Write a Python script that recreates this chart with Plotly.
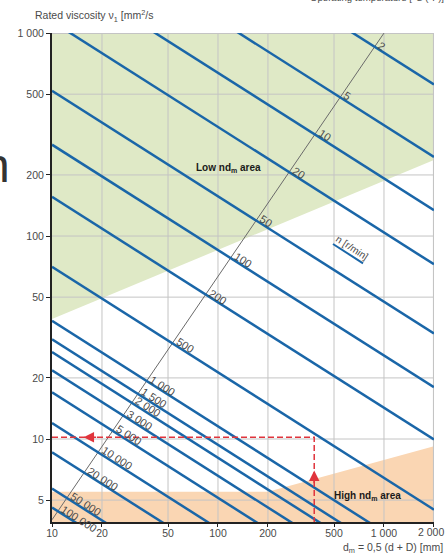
import math
import plotly.graph_objects as go

# Rotational speed n [r/min] of each line and the rated viscosity it gives
# at the two ends of the d_m scale (10 mm and 2 000 mm)
speeds = [2, 5, 10, 20, 50, 100, 200, 500, 1000, 1500, 2000, 3000, 5000,
          10000, 20000, 50000, 100000]
speed_labels = ["2", "5", "10", "20", "50", "100", "200", "500", "1 000",
                "1 500", "2 000", "3 000", "5 000", "10 000", "20 000",
                "50 000", "100 000"]
visc_at_dm10 = [8770, 3854, 2108, 1142, 520, 282, 156, 70.5, 38.2, 31.0,
                26.8, 21.8, 17.0, 12.0, 8.6, 5.7, 4.6]
visc_at_dm2000 = [558, 245, 134, 72.6, 33.1, 18.0, 9.94, 4.49, 2.43, 1.97,
                  1.70, 1.39, 1.08, 0.76, 0.55, 0.36, 0.29]
dm_ends = [10, 2000]

# Diagonal on which the speed labels sit
diag_dm = [10, 1000]
diag_visc = [4, 1000]

# Shaded areas
low_area_dm = [10, 2000, 2000, 10]
low_area_visc = [39, 237, 1000, 1000]
high_area_dm = [10, 200, 2000, 2000, 10]
high_area_visc = [5.5, 5.5, 9.2, 3.9, 3.9]

# Worked example (d_m = 380 mm -> ~10 mm2/s)
example_dm = 380
example_visc = 10.2
arrow_left_dm = 15.5
arrow_up_visc = 7.0

# Legend key for the speed lines
key_dm = [493, 748]
key_visc = [91.4, 73.4]

# Axes
x_ticks = [10, 20, 50, 100, 200, 500, 1000, 2000]
x_ticktext = ["10", "20", "50", "100", "200", "500", "1 000", "2 000"]
y_ticks = [5, 10, 20, 50, 100, 200, 500, 1000]
y_ticktext = ["5", "10", "20", "50", "100", "200", "500", "1 000"]
x_min, x_max = 10, 2000
y_min, y_max = 3.9, 1000

W, H = 446, 555
M_L, M_R, M_T, M_B = 52, 12, 33, 33
plot_w = W - M_L - M_R
plot_h = H - M_T - M_B
px_dec_x = plot_w / (math.log10(x_max) - math.log10(x_min))
px_dec_y = plot_h / (math.log10(y_max) - math.log10(y_min))

BLUE = "#1a66a8"
GRID = "#c4c4c4"
RED = "#e0343c"
TXT = "#4a4a4a"
FONT = "Liberation Sans, Arial, sans-serif"

fig = go.Figure()

# shaded areas
fig.add_trace(go.Scatter(x=low_area_dm, y=low_area_visc, fill="toself",
                         fillcolor="#dfe9c6", line=dict(width=0),
                         mode="lines", hoverinfo="skip"))
fig.add_trace(go.Scatter(x=high_area_dm, y=high_area_visc, fill="toself",
                         fillcolor="#fad6b3", line=dict(width=0),
                         mode="lines", hoverinfo="skip"))

# grid drawn over the shading
gx, gy = [], []
for v in x_ticks[1:]:
    gx += [v, v, None]
    gy += [y_min, y_max, None]
for v in y_ticks:
    gx += [x_min, x_max, None]
    gy += [v, v, None]
fig.add_trace(go.Scatter(x=gx, y=gy, mode="lines",
                         line=dict(color=GRID, width=1), hoverinfo="skip"))
# right and top frame
fig.add_trace(go.Scatter(x=[x_min, x_max, x_max], y=[y_max, y_max, y_min],
                         mode="lines", line=dict(color=GRID, width=2),
                         hoverinfo="skip"))

# label diagonal
fig.add_trace(go.Scatter(x=diag_dm, y=diag_visc, mode="lines",
                         line=dict(color="#6a6a6a", width=1),
                         hoverinfo="skip"))

# speed lines
for n, v1, v2 in zip(speeds, visc_at_dm10, visc_at_dm2000):
    fig.add_trace(go.Scatter(x=dm_ends, y=[v1, v2], mode="lines",
                             line=dict(color=BLUE, width=2.5),
                             name=f"n = {n}", hoverinfo="skip"))

# legend key segment
fig.add_trace(go.Scatter(x=key_dm, y=key_visc, mode="lines",
                         line=dict(color=BLUE, width=2), hoverinfo="skip"))

# worked example
fig.add_trace(go.Scatter(x=[x_min, example_dm, example_dm],
                         y=[example_visc, example_visc, y_min], mode="lines",
                         line=dict(color=RED, width=1.5, dash="6px,3px"),
                         hoverinfo="skip"))

annotations = []

# speed labels: written along each line, just right of the diagonal
lx = [math.log10(v) for v in diag_dm]
ly = [math.log10(v) for v in diag_visc]
b_d = (ly[1] - ly[0]) / (lx[1] - lx[0])
a_d = ly[0] - b_d * lx[0]
for lab, v1, v2 in zip(speed_labels, visc_at_dm10, visc_at_dm2000):
    x0, x1 = math.log10(dm_ends[0]), math.log10(dm_ends[1])
    b_n = (math.log10(v2) - math.log10(v1)) / (x1 - x0)
    a_n = math.log10(v1) - b_n * x0
    xs = (a_n - a_d) / (b_d - b_n)
    ys = a_n + b_n * xs
    theta = math.atan(-b_n * px_dec_y / px_dec_x)
    w = sum(3.05 if c == " " else 6.1 for c in lab)
    d = w / 2 + 2.5
    p = -5
    xshift = d * math.cos(theta) - p * math.sin(theta)
    yshift = -(d * math.sin(theta) + p * math.cos(theta))
    annotations.append(dict(x=xs, y=ys, text=lab, showarrow=False,
                            textangle=math.degrees(theta),
                            xanchor="center", yanchor="middle",
                            xshift=xshift, yshift=yshift,
                            font=dict(size=11, color=TXT, family=FONT)))

# "n [r/min]" written on top of its key segment
kb = ((math.log10(key_visc[1]) - math.log10(key_visc[0]))
      / (math.log10(key_dm[1]) - math.log10(key_dm[0])))
k_theta = math.atan(-kb * px_dec_y / px_dec_x)
k_mid_x = (math.log10(key_dm[0]) + math.log10(key_dm[1])) / 2
k_mid_y = (math.log10(key_visc[0]) + math.log10(key_visc[1])) / 2
annotations.append(dict(x=k_mid_x, y=k_mid_y, text="n [r/min]",
                        showarrow=False, textangle=math.degrees(k_theta),
                        xanchor="center", yanchor="middle",
                        xshift=7 * math.sin(k_theta),
                        yshift=7 * math.cos(k_theta),
                        font=dict(size=10, color=TXT, family=FONT)))

# area names
annotations.append(dict(x=math.log10(115), y=math.log10(217),
                        text="<b>Low nd<sub>m</sub> area</b>", showarrow=False,
                        font=dict(size=10, color="#1a1a1a", family=FONT)))
annotations.append(dict(x=math.log10(795), y=math.log10(5.26),
                        text="<b>High nd<sub>m</sub> area</b>", showarrow=False,
                        font=dict(size=10, color="#1a1a1a", family=FONT)))

# arrowheads of the worked example
annotations.append(dict(x=math.log10(arrow_left_dm), y=math.log10(example_visc),
                        ax=14, ay=0, text="", showarrow=True, arrowhead=2,
                        arrowsize=1.4, arrowwidth=1.5, arrowcolor=RED,
                        standoff=0))
annotations.append(dict(x=math.log10(example_dm), y=math.log10(arrow_up_visc),
                        ax=0, ay=14, text="", showarrow=True, arrowhead=2,
                        arrowsize=1.4, arrowwidth=1.5, arrowcolor=RED,
                        standoff=0))

# last x tick label sits flush with the page edge
tick_y = -(532 - (H - M_B)) / plot_h
annotations.append(dict(xref="paper", yref="paper", x=1 + (446 - (W - M_R)) / plot_w,
                        y=tick_y, xanchor="right", yanchor="middle",
                        showarrow=False, text=x_ticktext[-1],
                        font=dict(size=10.5, color=TXT, family=FONT)))

# axis titles and page text
annotations.append(dict(xref="paper", yref="paper",
                        x=(33 - M_L) / plot_w, y=1 + (M_T - 16) / plot_h,
                        xanchor="left", yanchor="middle", showarrow=False,
                        text="Rated viscosity ν<sub>1</sub> [mm<sup>2</sup>/s",
                        font=dict(size=10.5, color=TXT, family=FONT)))
annotations.append(dict(xref="paper", yref="paper",
                        x=(446 - M_L) / plot_w, y=1 + (M_T - 4.5) / plot_h,
                        xanchor="right", yanchor="bottom", showarrow=False,
                        text="Operating temperature [°C (°F)]",
                        font=dict(size=9.6, color=TXT, family=FONT)))
annotations.append(dict(xref="paper", yref="paper",
                        x=(445 - M_L) / plot_w, y=-(548 - (H - M_B)) / plot_h,
                        xanchor="right", yanchor="middle", showarrow=False,
                        text="d<sub>m</sub> = 0,5 (d + D) [mm]",
                        font=dict(size=10.5, color=TXT, family=FONT)))
annotations.append(dict(xref="paper", yref="paper",
                        x=(11.5 - M_L) / plot_w, y=1 - (165 - M_T) / plot_h,
                        xanchor="right", yanchor="middle", showarrow=False,
                        text="n", font=dict(size=48, color="#333333",
                                            family=FONT)))

fig.update_layout(
    width=W, height=H,
    margin=dict(l=M_L, r=M_R, t=M_T, b=M_B),
    paper_bgcolor="white", plot_bgcolor="white",
    showlegend=False,
    annotations=annotations,
    xaxis=dict(type="log",
               range=[math.log10(x_min), math.log10(x_max) + 0.0004],
               tickvals=x_ticks, ticktext=x_ticktext[:-1] + [""],
               showgrid=False, zeroline=False, showline=True,
               linecolor="#222222", linewidth=2, ticks="outside", ticklen=3,
               tickcolor="#222222", ticklabelstandoff=-3,
               tickfont=dict(size=10.5, color=TXT, family=FONT)),
    yaxis=dict(type="log",
               range=[math.log10(y_min), math.log10(y_max) + 0.0004],
               tickvals=y_ticks, ticktext=y_ticktext, showgrid=False,
               zeroline=False, showline=True, linecolor="#222222",
               linewidth=2, ticks="outside", ticklen=4, tickcolor="#222222",
               tickfont=dict(size=10.5, color=TXT, family=FONT)),
)

fig.write_html("out.html")
